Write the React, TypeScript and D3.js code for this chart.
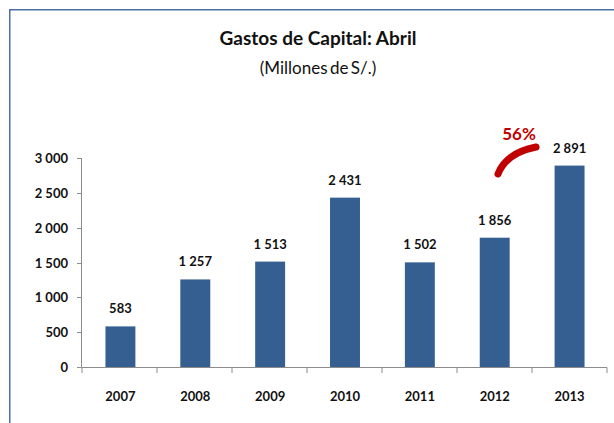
import * as d3 from 'd3'
import React from 'react'

// Chart data
const years = ['2007', '2008', '2009', '2010', '2011', '2012', '2013']
const gastos = [583, 1257, 1513, 2431, 1502, 1856, 2891]
const yTicks = [0, 500, 1000, 1500, 2000, 2500, 3000]
const growthLabel = '56%'

const W = 614
const H = 423
const FONT = 'Lato, "Open Sans", sans-serif'
const BAR = '#365f91'
const AXIS = '#8c8c8c'

// space as thousands separator, like "2 891"
const fmt = (v: number) => d3.format(',')(v).replace(/,/g, ' ')

const App = () => {
  const x = d3.scaleBand().domain(years).range([83, 607]).paddingInner(0.6).paddingOuter(0.3)
  const y = d3.scaleLinear().domain([0, 3000]).range([367, 158])

  const left = 82
  const boundaries = d3.range(years.length + 1).map((i) => left + i * (525 / years.length))

  // red growth stroke between 2012 and 2013
  const arc = d3.path()
  arc.moveTo(498, 174)
  arc.quadraticCurveTo(506, 153, 536, 147)

  return (
    <svg
      width={W}
      height={H}
      style={{ position: 'absolute', left: 0, top: 0, background: '#fff' }}
      fontFamily={FONT}
    >
      <rect x={9.75} y={9.75} width={W + 20} height={H + 20} fill="#fff" stroke="#4a6fa5" strokeWidth={1.5} />

      {/* titles */}
      <text x={318} y={45} textAnchor="middle" fontSize={19} fontWeight={700} fill="#111">
        Gastos de Capital: Abril
      </text>
      <text x={318} y={74} textAnchor="middle" fontSize={17} fill="#111" wordSpacing={-2}>
        (Millones de S/.)
      </text>

      {/* y axis */}
      <line x1={81.5} x2={81.5} y1={y(3000)} y2={y(0)} stroke={AXIS} />
      {yTicks.map((t) => (
        <g key={t} transform={`translate(0, ${Math.round(y(t)) + 0.5})`}>
          <line x1={77} x2={81.5} stroke={AXIS} />
          <text x={68} dy="0.35em" textAnchor="end" fontSize={13} fontWeight={700} fill="#111">
            {fmt(t)}
          </text>
        </g>
      ))}

      {/* bars */}
      {gastos.map((v, i) => (
        <g key={years[i]}>
          <rect x={x(years[i])} y={y(v)} width={x.bandwidth()} height={y(0) - y(v)} fill={BAR} />
          <text
            x={(x(years[i]) as number) + x.bandwidth() / 2}
            y={y(v) - 13}
            textAnchor="middle"
            fontSize={13}
            fontWeight={700}
            fill="#111"
          >
            {fmt(v)}
          </text>
        </g>
      ))}

      {/* x axis */}
      <line x1={81.5} x2={607} y1={367.5} y2={367.5} stroke={AXIS} />
      {boundaries.map((b, i) => (
        <line key={i} x1={b} x2={b} y1={367.5} y2={373} stroke={AXIS} />
      ))}
      {years.map((yr) => (
        <text
          key={yr}
          x={(x(yr) as number) + x.bandwidth() / 2}
          y={401}
          textAnchor="middle"
          fontSize={13}
          fontWeight={700}
          fill="#111"
        >
          {yr}
        </text>
      ))}

      {/* growth annotation */}
      <path d={arc.toString()} fill="none" stroke="#c00000" strokeWidth={7} strokeLinecap="round" />
      <text x={519} y={140} textAnchor="middle" fontSize={17} fontWeight={700} fill="#c00000">
        {growthLabel}
      </text>
    </svg>
  )
}

export default App
